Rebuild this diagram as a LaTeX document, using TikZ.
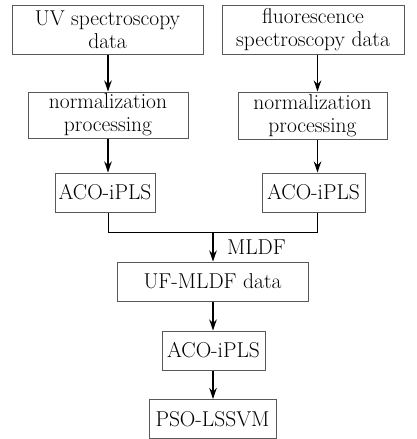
\documentclass[tikz,border=0pt]{standalone}
\usepackage{tikz}
\usetikzlibrary{arrows.meta}

\tikzset{
    box/.style={draw=black!65, line width=1pt, inner sep=0pt, align=center,
        font=\fontsize{21.5}{23}\selectfont},
    flow/.style={-{Stealth[length=11pt,width=7.5pt]}, line width=1.4pt}
}

\begin{document}
\begin{tikzpicture}[x=1pt,y=-1pt]
    \useasboundingbox (0,0) rectangle (416,439);

    % columns the arrows run along
    \coordinate (cl) at (108,0);
    \coordinate (cr) at (317.5,0);
    \coordinate (cm) at (213,0);

    % left branch
    \node [box, minimum width=191pt, minimum height=49pt] (uv) at (107.5,29.5) {UV spectroscopy\\data};
    \node [box, minimum width=160pt, minimum height=46pt] (nl) at (108,115) {normalization\\processing};
    \node [box, minimum width=100pt, minimum height=39pt] (al) at (105,192.5) {ACO-iPLS};

    % right branch
    \node [box, minimum width=182pt, minimum height=49pt] (fl) at (313,29.5) {fluorescence\\spectroscopy data};
    \node [box, minimum width=149pt, minimum height=47pt] (nr) at (312.5,115.5) {normalization\\processing};
    \node [box, minimum width=103pt, minimum height=39pt] (ar) at (313.5,192.5) {ACO-iPLS};

    % fused part
    \node [box, minimum width=191pt, minimum height=39pt] (uf) at (212.5,281.5) {UF-MLDF data};
    \node [box, minimum width=103pt, minimum height=39pt] (ac) at (213.5,350.5) {ACO-iPLS};
    \node [box, minimum width=127pt, minimum height=39pt] (ps) at (212.5,419) {PSO-LSSVM};

    \coordinate (m) at (213,232.5);

    \draw [flow] (uv.south -| cl) -- (nl.north -| cl);
    \draw [flow] (nl.south -| cl) -- (al.north -| cl);
    \draw [flow] (fl.south -| cr) -- (nr.north -| cr);
    \draw [flow] (nr.south -| cr) -- (ar.north -| cr);

    \draw [line width=1pt] (al.south -| cl) |- (m) -| (ar.south -| cr);
    \draw [flow] (m) -- (uf.north -| cm)
        node [midway, right=10pt, font=\fontsize{21.5}{23}\selectfont] {MLDF};

    \draw [flow] (uf.south -| cm) -- (ac.north -| cm);
    \draw [flow] (ac.south -| cm) -- (ps.north -| cm);
\end{tikzpicture}
\end{document}
